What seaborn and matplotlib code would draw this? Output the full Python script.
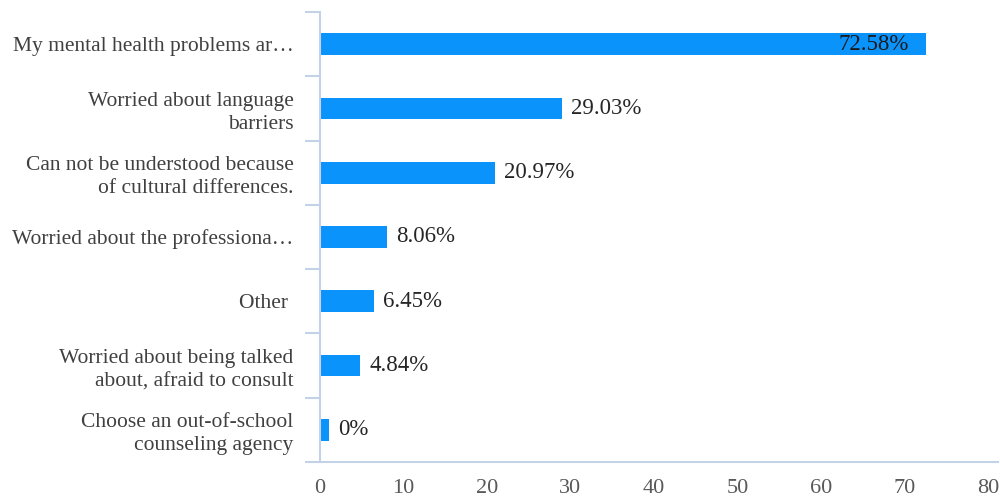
import matplotlib
matplotlib.use("Agg")
import matplotlib.pyplot as plt
from matplotlib.ticker import FixedLocator
import seaborn as sns
import pandas as pd
import numpy as np

# Reasons for not using the school counseling service (% of respondents)
categories = [
    "My mental health problems ar…",
    "Worried about language\nbarriers",
    "Can not be understood because\nof cultural differences.",
    "Worried about the professiona…",
    "Other ",
    "Worried about being talked\nabout, afraid to consult",
    "Choose an out-of-school\ncounseling agency",
]
percentages = [72.58, 29.03, 20.97, 8.06, 6.45, 4.84, 0.0]
x_ticks = [0, 10, 20, 30, 40, 50, 60, 70, 80]

BAR_COLOR = "#0A93FB"
AXIS_COLOR = "#C3D2E6"
LABEL_COLOR = "#404040"

sns.set_theme(style="white")
plt.rcParams["font.family"] = ["Liberation Serif", "DejaVu Serif"]

df = pd.DataFrame({"reason": categories, "pct": percentages})
# zero-valued answers still get a thin visible stub, as in the survey tool's export
df["shown"] = np.maximum(df["pct"], 1.1)

fig = plt.figure(figsize=(10, 5.01), dpi=100)
ax = fig.add_axes([0.32, 0.078, 0.678, 0.898])

sns.barplot(data=df, x="shown", y="reason", order=categories, orient="h",
            color=BAR_COLOR, saturation=1, width=0.34, ax=ax, edgecolor="none")

ax.set_xlim(0, 81.2)
ax.set_ylim(len(categories) - 0.5, -0.5)
ax.set_xlabel("")
ax.set_ylabel("")

ax.set_xticks(x_ticks)
ax.set_xticklabels([str(t) for t in x_ticks])
ax.tick_params(axis="x", length=0, pad=12, labelsize=16, labelcolor="#595959")

ax.yaxis.set_minor_locator(FixedLocator(np.arange(-0.5, len(categories), 1.0)))
ax.tick_params(axis="y", which="major", length=0, pad=19, labelsize=15.5,
               labelcolor=LABEL_COLOR)
ax.tick_params(axis="y", which="minor", length=11, width=1.5, color=AXIS_COLOR,
               left=True)
for lbl in ax.get_yticklabels():
    lbl.set_multialignment("right")
    lbl.set_linespacing(1.3)

for side in ("top", "right"):
    ax.spines[side].set_visible(False)
for side in ("left", "bottom"):
    ax.spines[side].set_color(AXIS_COLOR)
    ax.spines[side].set_linewidth(1.5)

for i, (val, shown) in enumerate(zip(df["pct"], df["shown"])):
    text = f"{val:g}%" if val == 0 else f"{val:.2f}%"
    if val > 60:
        ax.annotate(text, xy=(shown, i), xytext=(-12, 0), textcoords="offset points",
                    ha="right", va="center", fontsize=16.5, color="#1A1A1A")
    else:
        ax.annotate(text, xy=(shown, i), xytext=(6.5, 0), textcoords="offset points",
                    ha="left", va="center", fontsize=16.5, color="#262626")

fig.savefig("out.png", dpi=100, facecolor="white")
